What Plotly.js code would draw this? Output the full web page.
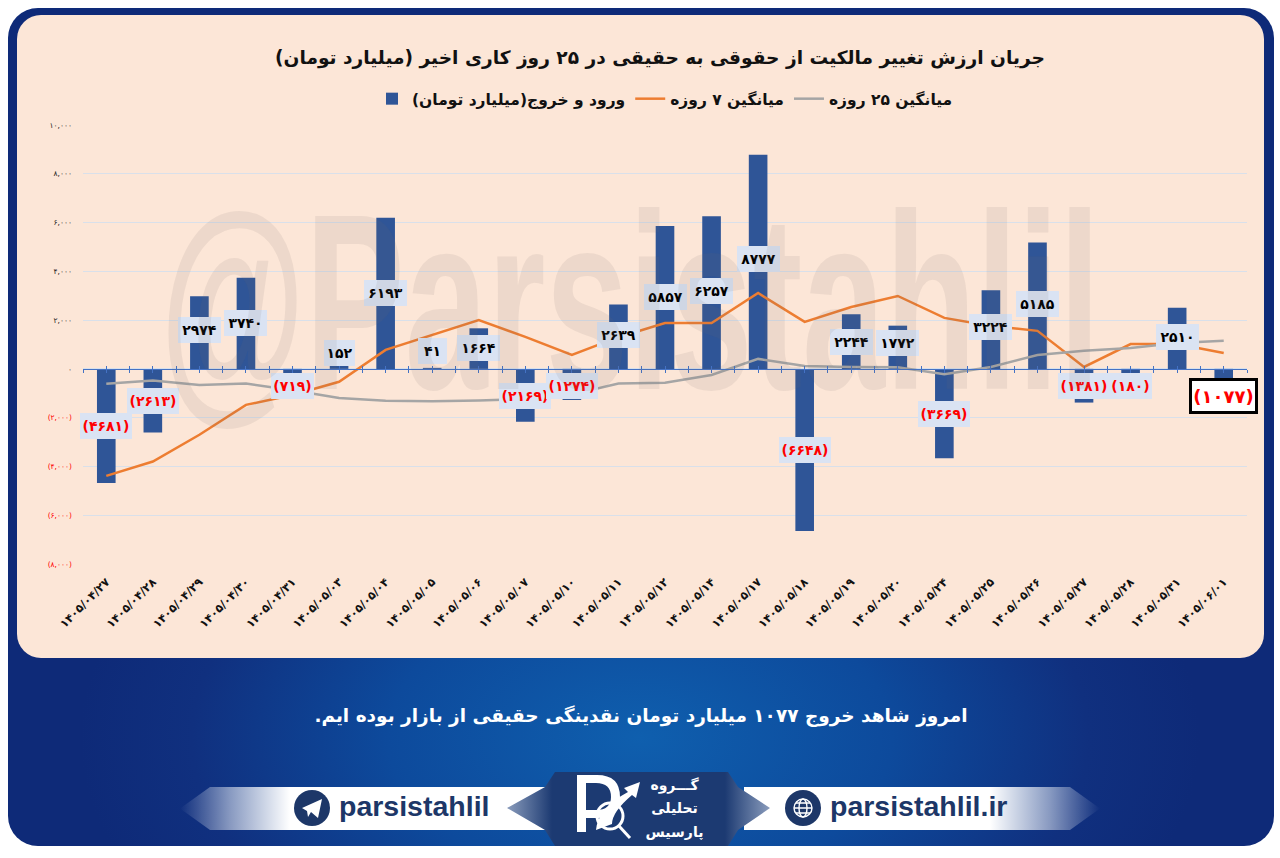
<!DOCTYPE html>
<html lang="fa"><head><meta charset="utf-8">
<script src="https://cdn.plot.ly/plotly-3.0.1.min.js"></script>
<style>
html,body{margin:0;padding:0;width:1280px;height:858px;background:#fff;overflow:hidden;font-family:"DejaVu Sans",sans-serif}
.abs{position:absolute}
#frame{left:8px;top:8px;width:1266px;height:838px;border-radius:30px;background:radial-gradient(ellipse 560px 330px at 632px 730px,#0f5fae 0%,#0d4a9c 45%,#10307f 80%,#0e2a78 100%),#0e2a78}
#panel{left:17px;top:15px;width:1247px;height:643px;border-radius:24px;background:#fce6d7}
#chart{left:0;top:0;width:1280px;height:858px}
#wm{left:160px;top:159px;white-space:nowrap;font:bold 250px "Liberation Sans",sans-serif;color:rgba(110,100,100,.105);transform-origin:0 0;transform:scale(.596,1);pointer-events:none;direction:ltr}
#note{left:0;top:705px;width:1282px;text-align:center;color:#fff;font:bold 18.5px "DejaVu Sans",sans-serif;direction:rtl}
.pill{top:787px;height:43px;}
#pl{left:180px;width:376px;background:linear-gradient(90deg,rgba(255,255,255,0) 0,rgba(255,255,255,.5) 50px,#fff 110px,#fff 100%);clip-path:polygon(0 50%,30px 0,100% 0,100% 100%,30px 100%)}
#pr{left:744px;width:356px;background:linear-gradient(270deg,rgba(255,255,255,0) 0,rgba(255,255,255,.5) 50px,#fff 110px,#fff 100%);clip-path:polygon(100% 50%,326px 0,0 0,0 100%,326px 100%)}
#hex{left:507px;top:772px;width:263px;height:74px;background:linear-gradient(90deg,#8a9cbc 0,#1c3a72 45px,#1c3a72 218px,#8a9cbc 100%);clip-path:polygon(0 36px,38px 15px,48px 0,221px 0,231px 15px,263px 36px,231px 58px,221px 74px,48px 74px,38px 58px)}
.site{top:790px;font:bold 28.5px "Liberation Sans",sans-serif;color:#1d3768;direction:ltr;white-space:nowrap}
.fa{color:#fff;font:bold 14px "DejaVu Sans",sans-serif;direction:rtl;left:637px;width:75px;text-align:center}
</style></head><body>
<div id="frame" class="abs"></div>
<div id="panel" class="abs"></div>
<div id="pl" class="abs pill"></div>
<div id="pr" class="abs pill"></div>
<div id="hex" class="abs"></div>
<svg class="abs" style="left:0;top:0" width="1280" height="858">
 <circle cx="312" cy="808" r="18" fill="#1d3768"/>
 <path d="M302 808 L322 799 L318 818 L311 812 L308 817 L307 811 Z" fill="#fff"/>
 <circle cx="803" cy="808" r="18" fill="#1d3768"/>
 <g fill="none" stroke="#fff" stroke-width="1.4"><circle cx="803" cy="808" r="9"/><ellipse cx="803" cy="808" rx="4" ry="9"/><path d="M794 808H812M796 803H810M796 813H810"/></g>
 <path d="M577 775 H597 Q620 775 620 797 Q620 818 597 818 H586 V832 H577 Z M586 783 V810 H596 Q611 810 611 797 Q611 783 596 783 Z" fill="#fff" fill-rule="evenodd"/>
 <path d="M596 830 Q598 808 628 792 L624 788 L640 782 L636 798 L632 795 Q612 812 612 824 Z" fill="#fff"/>
 <circle cx="610" cy="816" r="13" fill="none" stroke="#fff" stroke-width="3"/>
 <path d="M619 826 L630 838" stroke="#fff" stroke-width="3"/>
</svg>
<div id="chart" class="abs"></div>
<div id="wm" class="abs">@Parsistahlil</div>
<div id="note" class="abs">امروز شاهد خروج ۱۰۷۷ میلیارد تومان نقدینگی حقیقی از بازار بوده ایم.</div>
<div class="abs site" style="left:339px">parsistahlil</div>
<div class="abs site" style="left:830px">parsistahlil.ir</div>
<div class="abs fa" style="top:777px">گـــروه</div>
<div class="abs fa" style="top:800px">تحلیلی</div>
<div class="abs fa" style="top:824px">پارسیس</div>
<script>
const categories=["۱۴۰۵/۰۴/۲۷","۱۴۰۵/۰۴/۲۸","۱۴۰۵/۰۴/۲۹","۱۴۰۵/۰۴/۳۰","۱۴۰۵/۰۴/۳۱","۱۴۰۵/۰۵/۰۳","۱۴۰۵/۰۵/۰۴","۱۴۰۵/۰۵/۰۵","۱۴۰۵/۰۵/۰۶","۱۴۰۵/۰۵/۰۷","۱۴۰۵/۰۵/۱۰","۱۴۰۵/۰۵/۱۱","۱۴۰۵/۰۵/۱۲","۱۴۰۵/۰۵/۱۴","۱۴۰۵/۰۵/۱۷","۱۴۰۵/۰۵/۱۸","۱۴۰۵/۰۵/۱۹","۱۴۰۵/۰۵/۲۰","۱۴۰۵/۰۵/۲۴","۱۴۰۵/۰۵/۲۵","۱۴۰۵/۰۵/۲۶","۱۴۰۵/۰۵/۲۷","۱۴۰۵/۰۵/۲۸","۱۴۰۵/۰۵/۳۱","۱۴۰۵/۰۶/۰۱"];
const flows=[-4681,-2613,2974,3740,-719,152,6193,41,1664,-2169,-1274,2639,5857,6257,8777,-6648,2244,1772,-3669,3224,5185,-1381,-180,2510,-1077];
const avg7=[-4385,-3800,-2700,-1475,-1070,-530,780,1400,2000,1310,570,1300,1880,1880,3110,1930,2540,2990,2090,1760,1560,80,1020,1020,650];
const avg25=[-610,-480,-660,-600,-880,-1190,-1310,-1330,-1300,-1230,-1050,-600,-570,-250,410,120,80,70,-220,80,570,740,860,1060,1150];
const labelAt=[-2340,-1310,1600,1885,-700,670,3110,740,860,-1100,-700,1390,2950,3200,4510,-3320,1105,1065,-1845,1720,2665,-700,-700,1310,-1100];
const yTickVals=[-8000,-6000,-4000,-2000,0,2000,4000,6000,8000,10000];
const yTickText=["(۸,۰۰۰)","(۶,۰۰۰)","(۴,۰۰۰)","(۲,۰۰۰)","۰","۲,۰۰۰","۴,۰۰۰","۶,۰۰۰","۸,۰۰۰","۱۰,۰۰۰"];
const titleText="جریان ارزش تغییر مالکیت از حقوقی به حقیقی در ۲۵ روز کاری اخیر (میلیارد تومان)";
const seriesNames=["ورود و خروج(میلیارد تومان)","میانگین ۷ روزه","میانگین ۲۵ روزه"];

const fa=n=>String(n).replace(/\d/g,d=>"۰۱۲۳۴۵۶۷۸۹"[d]);
const FONT='"DejaVu Sans",sans-serif';
const posWidth={2:29,3:31,4:43}, negWidth={3:43,4:52};
const traces=[
 {type:"bar",name:seriesNames[0],x:categories,y:flows,marker:{color:"#2f5597"},hoverinfo:"skip"},
 {type:"scatter",mode:"lines",name:seriesNames[1],x:categories,y:avg7,line:{color:"#ed7d31",width:2.5},hoverinfo:"skip"},
 {type:"scatter",mode:"lines",name:seriesNames[2],x:categories,y:avg25,line:{color:"#a5a5a5",width:2.5},hoverinfo:"skip"},
 {type:"scatter",mode:"none",x:[0],y:[0],xaxis:"x2",showlegend:false,hoverinfo:"skip"},
 {type:"scatter",mode:"none",x:[0],y:[0],xaxis:"x3",showlegend:false,hoverinfo:"skip"}
];
const annotations=flows.map((v,i)=>{
 const last=i===flows.length-1, neg=v<0, digits=String(Math.abs(v)).length, txt=neg?"("+fa(-v)+")":fa(v);
 return {x:categories[i],y:labelAt[i],xref:"x",yref:"y",text:txt,showarrow:false,
  font:{family:FONT,size:last?18:14,color:neg?"#ff0000":"#000000",weight:"bold"},
  bgcolor:last?"#ffffff":"#dae3f3",bordercolor:last?"#000000":"rgba(0,0,0,0)",borderwidth:last?3:0,
  borderpad:0,width:last?63:(neg?negWidth:posWidth)[digits],height:last?30:26,xanchor:"center",yanchor:"middle",valign:"middle"};
});
const tickAxis=(ticks)=>({overlaying:"x",anchor:"free",position:8000/18000,range:[-0.5,24.5],tickmode:"linear",tick0:-0.5,dtick:0.5,ticks:ticks,ticklen:3,tickwidth:1,tickcolor:"#4472c4",showticklabels:false,showgrid:false,zeroline:false,showline:true,linecolor:"#4472c4",linewidth:1.5,fixedrange:true});
const layout={
 width:1280,height:858,autosize:false,paper_bgcolor:"rgba(0,0,0,0)",plot_bgcolor:"rgba(0,0,0,0)",
 margin:{l:82.7,r:32.7,t:125,b:294,pad:0},showlegend:true,bargap:0.6,
 title:{text:titleText,x:660/1280,xanchor:"center",y:1-57/858,yanchor:"middle",font:{family:FONT,size:18.6,color:"#111111",weight:"bold"}},
 legend:{orientation:"h",x:0.5,xanchor:"center",y:1.059,yanchor:"middle",bgcolor:"rgba(0,0,0,0)",font:{family:FONT,size:15.5,color:"#111111",weight:"bold"},traceorder:"normal",itemwidth:30},
 xaxis:{type:"category",categoryarray:categories,range:[-0.5,24.5],tickangle:-45,tickfont:{family:FONT,size:11.5,color:"#111111",weight:"bold"},ticks:"",showgrid:false,zeroline:false,showline:false,automargin:false,ticklabelstandoff:8,fixedrange:true},
 xaxis2:tickAxis("inside"),xaxis3:tickAxis("outside"),
 yaxis:{range:[-8000,10000],tickmode:"array",tickvals:yTickVals,
  ticktext:yTickText.map((t,i)=>yTickVals[i]<0?'<span style="color:#ff0000">'+t+'</span>':t),
  tickfont:{family:FONT,size:7.5,color:"#222222"},ticks:"",showline:false,showgrid:true,gridcolor:"#d9e0ea",gridwidth:1,zeroline:false,automargin:false,ticklabelstandoff:10,fixedrange:true},
 annotations:annotations
};
Plotly.newPlot("chart",traces,layout,{displayModeBar:false,staticPlot:true});
</script>
</body></html>
